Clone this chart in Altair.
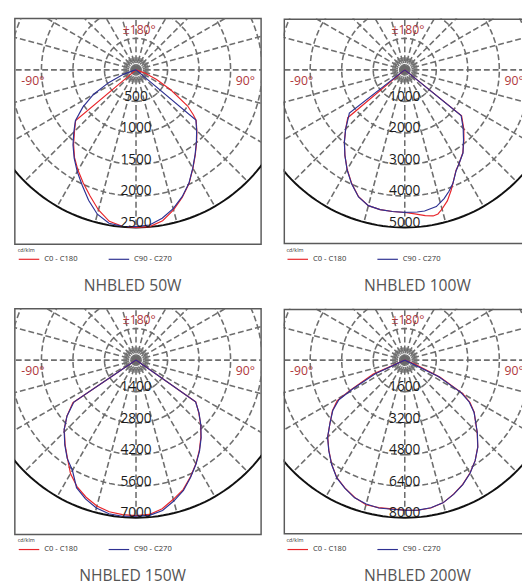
import numpy as np
import pandas as pd
import altair as alt

# ---------------- data ----------------
TITLES = ["NHBLED 50W", "NHBLED 100W", "NHBLED 150W", "NHBLED 200W"]
RING_STEPS = [500, 1000, 1400, 1600]          # cd/klm per ring (5 rings)
SERIES = ["C0 - C180", "C90 - C270"]

# angles in degrees from nadir (0 = down, -90 left, 90 right), intensities cd/klm
P1_RED_ANG = [-90, -52, -50, -45, -40, -35, -30, -25, -20, -15, -10, -5, 0, 5, 10, 15, 20, 25, 30, 35, 40, 45, 50, 52, 55, 60, 65, 70, 75, 90]
P1_RED_CD = [0, 0, 1250, 1380, 1540, 1700, 1840, 1980, 2130, 2300, 2440, 2490, 2500, 2495, 2430, 2300, 2150, 1990, 1805, 1640, 1495, 1365, 1245, 1150, 1000, 640, 360, 150, 0, 0]
P1_BLUE_ANG = [-90, -78, -75, -70, -65, -60, -55, -50, -45, -40, -35, -30, -25, -20, -15, -10, -5, 0, 5, 10, 15, 20, 25, 30, 35, 40, 45, 50, 52, 90]
P1_BLUE_CD = [0, 0, 50, 220, 480, 780, 1030, 1255, 1395, 1555, 1710, 1865, 2020, 2200, 2370, 2470, 2490, 2485, 2470, 2390, 2280, 2140, 1985, 1800, 1635, 1490, 1360, 1240, 0, 0]

P2_RED_ANG = [-90, -50, -45, -40, -35, -30, -25, -20, -15, -10, -5, 0, 4, 8, 11, 13, 15, 18, 21, 23, 27, 30, 35, 40, 45, 51, 90]
P2_RED_CD = [0, 2360, 2650, 2980, 3310, 3650, 3980, 4280, 4460, 4500, 4510, 4525, 4580, 4670, 4720, 4690, 4570, 4370, 4100, 3910, 3580, 3440, 3210, 2920, 2650, 2320, 0]
P2_BLUE_ANG = [-90, -52, -50, -45, -40, -35, -30, -25, -20, -15, -10, -5, 0, 5, 8, 13, 17, 20, 23, 27, 30, 35, 40, 45, 51, 90]
P2_BLUE_CD = [0, 2230, 2330, 2650, 2980, 3310, 3660, 3990, 4290, 4460, 4500, 4510, 4520, 4525, 4520, 4450, 4270, 4100, 3910, 3590, 3440, 3220, 2900, 2620, 2300, 0]

P3_ANG = [-90, -56, -51, -46, -40, -35, -30, -25, -20, -15, -10, -5, 0, 5, 10, 15, 20, 25, 30, 35, 40, 45, 50, 55, 90]
P3_RED_CD = [0, 3380, 3950, 4430, 4900, 5310, 5820, 6200, 6480, 6710, 6840, 6890, 6910, 6880, 6700, 6400, 6120, 5720, 5320, 4900, 4480, 4060, 3640, 3240, 0]
P3_BLUE_CD = [0, 3330, 3940, 4440, 4920, 5330, 5650, 6250, 6560, 6800, 6930, 6960, 6930, 6920, 6780, 6480, 6160, 5740, 5330, 4920, 4500, 4070, 3650, 3230, 0]

P4_RED_ANG = [-90, -72, -66, -61, -59, -55, -50, -45, -40, -35, -30, -25, -20, -15, -10, -5, 0, 5, 10, 15, 20, 25, 30, 35, 40, 45, 50, 53, 57, 60, 64, 68, 72, 90]
P4_RED_CD = [0, 0, 1750, 3200, 4000, 4480, 4950, 5530, 5990, 6460, 6890, 7170, 7420, 7600, 7600, 7580, 7610, 7650, 7620, 7500, 7240, 6960, 6620, 6230, 5760, 5200, 4660, 4420, 3950, 3400, 2000, 600, 0, 0]
P4_BLUE_ANG = [-90, -70, -65, -61, -59, -55, -50, -45, -40, -35, -30, -25, -20, -15, -10, -5, 0, 5, 10, 15, 20, 25, 30, 35, 40, 45, 50, 53, 57, 60, 64, 70, 90]
P4_BLUE_CD = [0, 0, 1650, 3050, 3900, 4460, 4950, 5540, 6000, 6470, 6900, 7180, 7440, 7560, 7620, 7600, 7620, 7640, 7610, 7500, 7250, 6970, 6630, 6230, 5770, 5210, 4670, 4400, 3900, 3300, 1900, 0, 0]

# ---------------- style / layout ----------------
RED = "#e8262b"
BLUE = "#2e3192"
GRID = "#6e6e6e"
ANGLE_COLOR = "#b0383c"
FRAME = "#5a5a5a"
FONT = "Open Sans"
PX = 32.26          # pixels per ring step
CX, CY = 124.0, 52.5  # pole position inside the frame
H = 231
W_L, W_R = 252, 244


def rad(a):
    return np.radians(np.asarray(a, dtype=float))


def curve(ang, cd, step, name):
    a = rad(ang)
    r = np.asarray(cd, dtype=float) / step
    return pd.DataFrame({"x": r * np.sin(a), "y": -r * np.cos(a),
                         "series": name, "idx": np.arange(len(ang))})


def panel(i, width, red, blue, right):
    step = RING_STEPS[i]
    xsc = alt.Scale(domain=[-CX / PX, (width - CX) / PX], nice=False, zero=False)
    ysc = alt.Scale(domain=[-(H - CY) / PX, CY / PX], nice=False, zero=False)
    X = alt.X("x:Q", scale=xsc, axis=None)
    Y = alt.Y("y:Q", scale=ysc, axis=None)

    a15 = np.arange(0, 360, 15)
    spokes = pd.DataFrame({"x": np.zeros(len(a15)), "y": np.zeros(len(a15)),
                           "x2": 5 * np.sin(rad(a15)), "y2": -5 * np.cos(rad(a15))})
    a5 = np.array([a for a in range(0, 360, 5) if a % 15])
    r0, r1 = 7 / PX, 13 / PX
    dense = pd.DataFrame({"x": r0 * np.sin(rad(a5)), "y": -r0 * np.cos(rad(a5)),
                          "x2": r1 * np.sin(rad(a5)), "y2": -r1 * np.cos(rad(a5))})
    t = np.arange(0, 361, 2)
    rings = pd.concat([pd.DataFrame({"x": k * np.sin(rad(t)), "y": -k * np.cos(rad(t)),
                                     "k": k, "t": t}) for k in range(1, 5)])
    outer = pd.DataFrame({"x": 5 * np.sin(rad(t)), "y": -5 * np.cos(rad(t)), "t": t})
    pole = pd.DataFrame({"x": [0.0], "y": [0.0]})
    curves = pd.concat([curve(red[0], red[1], step, SERIES[0]),
                        curve(blue[0], blue[1], step, SERIES[1])])
    labels = pd.DataFrame({"x": np.zeros(5), "y": -np.arange(1, 6) + 4.5 / PX,
                           "label": [str(step * k) for k in range(1, 6)]})
    angles = pd.DataFrame({"x": [3.3 / PX, -105.5 / PX, 112 / PX],
                           "y": [41 / PX, -11.5 / PX, -11.5 / PX],
                           "label": ["±180°", "-90°", "90°"]})

    layers = [
        alt.Chart(spokes).mark_rule(clip=True, color=GRID, strokeWidth=1.6, strokeDash=[6, 3])
        .encode(x=X, y=Y, x2="x2:Q", y2="y2:Q"),
        alt.Chart(dense).mark_rule(clip=True, color=GRID, strokeWidth=1.0)
        .encode(x=X, y=Y, x2="x2:Q", y2="y2:Q"),
        alt.Chart(rings).mark_line(clip=True, color=GRID, strokeWidth=1.6, strokeDash=[6, 3])
        .encode(x=X, y=Y, detail="k:N", order="t:Q"),
        alt.Chart(pole).mark_circle(size=75, color="#6a6a6a", opacity=1).encode(x=X, y=Y),
        alt.Chart(outer).mark_line(clip=True, color="#111111", strokeWidth=2)
        .encode(x=X, y=Y, order="t:Q"),
        alt.Chart(curves).mark_line(clip=True, strokeWidth=1.2).encode(
            x=X, y=Y, order="idx:Q",
            color=alt.Color("series:N", scale=alt.Scale(domain=SERIES, range=[RED, BLUE]),
                            legend=alt.Legend(
                                title="cd/klm", orient="none", legendX=3, legendY=H + 4,
                                direction="horizontal", symbolType="stroke", symbolSize=441,
                                symbolStrokeWidth=1.2, titleFontSize=5.5, titleFont=FONT,
                                titleFontWeight="normal", titleColor="#333", titlePadding=-6,
                                labelFontSize=7.8, labelFont=FONT, labelColor="#333",
                                labelOffset=4, columnPadding=28, padding=0, rowPadding=0))),
        alt.Chart(labels).mark_text(clip=True, font=FONT, fontSize=14, color="#1a1a1a")
        .encode(x=X, y=Y, text="label:N"),
        alt.Chart(angles).mark_text(clip=True, font=FONT, fontSize=12.5, color=ANGLE_COLOR)
        .encode(x=X, y=Y, text="label:N"),
    ]
    props = dict(width=width, height=H,
                 title=alt.TitleParams(TITLES[i], orient="bottom", anchor="middle", fontSize=16,
                                       font=FONT, fontWeight="normal", color="#555555",
                                       offset=14.5, dx=15 if right else -5.5))
    if right:
        layers.append(alt.Chart(pole).mark_rect(clip=True, filled=False, color=FRAME, strokeWidth=3)
                      .encode(x=alt.value(0), x2=alt.value(width + 20),
                              y=alt.value(0), y2=alt.value(H)))
        props["view"] = alt.ViewBackground(stroke="transparent")
    return alt.layer(*layers).properties(**props)


p1 = panel(0, W_L, (P1_RED_ANG, P1_RED_CD), (P1_BLUE_ANG, P1_BLUE_CD), False)
p2 = panel(1, W_R, (P2_RED_ANG, P2_RED_CD), (P2_BLUE_ANG, P2_BLUE_CD), True)
p3 = panel(2, W_L, (P3_ANG, P3_RED_CD), (P3_ANG, P3_BLUE_CD), False)
p4 = panel(3, W_R, (P4_RED_ANG, P4_RED_CD), (P4_BLUE_ANG, P4_BLUE_CD), True)

res = dict(x="independent", y="independent", color="independent")
top = alt.hconcat(p1, p2, spacing=21).resolve_scale(**res).resolve_legend(color="independent")
bottom = alt.hconcat(p3, p4, spacing=21).resolve_scale(**res).resolve_legend(color="independent")
chart = (alt.vconcat(top, bottom, spacing=13)
         .resolve_scale(**res).resolve_legend(color="independent")
         .configure_view(stroke=FRAME, strokeWidth=1.5)
         .properties(padding={"left": 6, "top": 3, "right": 0, "bottom": 0}))

chart.save("out.html", embed_options={"renderer": "svg", "actions": False})
